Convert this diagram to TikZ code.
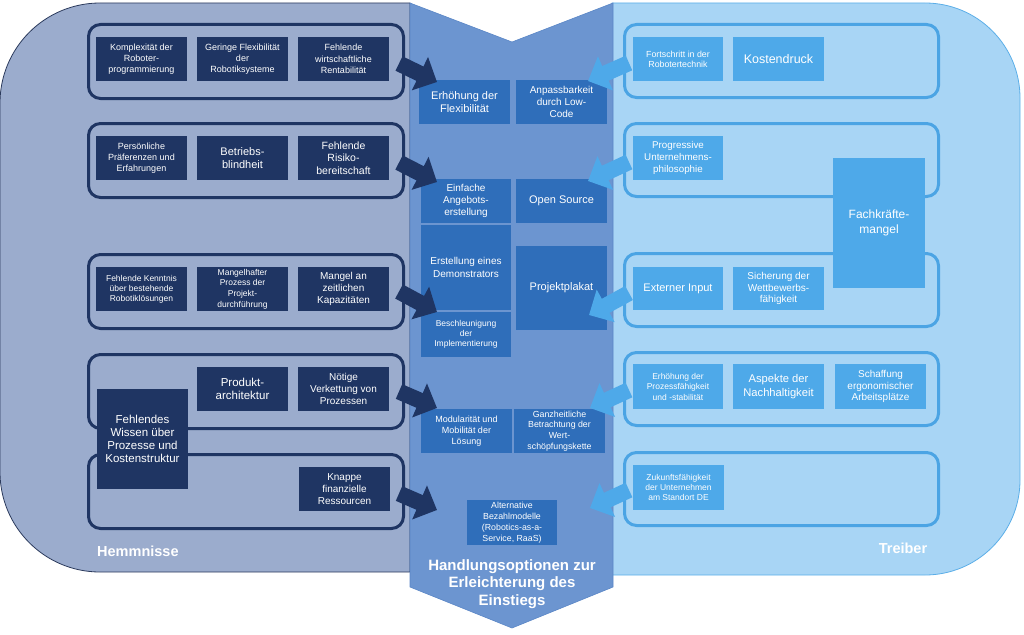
\documentclass[tikz,border=0pt]{standalone}
\usepackage{fontspec}
\setmainfont{Liberation Sans}
\usetikzlibrary{arrows.meta}
\definecolor{lpanel}{HTML}{9BACCD}
\definecolor{lline}{HTML}{2B3A5C}
\definecolor{navy}{HTML}{1F3563}
\definecolor{mpanel}{HTML}{6C95D0}
\definecolor{mline}{HTML}{5A86C6}
\definecolor{mbox}{HTML}{2F6EBA}
\definecolor{rpanel}{HTML}{A8D5F5}
\definecolor{rline}{HTML}{5BAEE8}
\definecolor{rbox}{HTML}{4EA9E9}
\definecolor{rgrp}{HTML}{4BA4E4}
\begin{document}
\begin{tikzpicture}[x=1pt,y=-1pt,
  box/.style={anchor=north west,inner sep=0pt,outer sep=0pt,minimum width=91pt,minimum height=44pt,align=center,text=white},
  lbox/.style={box,fill=navy},
  mboxs/.style={box,fill=mbox},
  rboxs/.style={box,fill=rbox},
  lgrp/.style={anchor=north west,draw=navy,line width=3pt,rounded corners=12pt,minimum width=315pt,minimum height=74pt,inner sep=0pt},
  rgrps/.style={anchor=north west,draw=rgrp,line width=3pt,rounded corners=12pt,minimum width=314pt,minimum height=73pt,inner sep=0pt},
  larr/.style={draw=navy,line width=16pt,-{Triangle[width=36pt,length=19pt]}},
  rarr/.style={draw=rbox,line width=16pt,-{Triangle[width=36pt,length=19pt]}},
  sza/.style={font=\fontsize{8.5}{10}\selectfont},
  szb/.style={font=\fontsize{9}{11.3}\selectfont},
  szc/.style={font=\fontsize{10}{12}\selectfont},
  szd/.style={font=\fontsize{11}{13}\selectfont},
  sze/.style={font=\fontsize{12}{15}\selectfont},
  lab/.style={text=white,font=\bfseries\fontsize{14.5}{17.5}\selectfont,inner sep=0pt}
]
\useasboundingbox (0,0) rectangle (1024,634);
% panels
\draw[fill=lpanel,draw=lline,line width=0.8pt] (410,3) -- (100,3) .. controls (44.8,3) and (0,47.8) .. (0,103) -- (0,472) .. controls (0,527.2) and (44.8,572) .. (100,572) -- (410,572) -- cycle;
\draw[fill=rpanel,draw=rline,line width=0.8pt] (612,3) -- (925,3) .. controls (977.5,3) and (1020,45.5) .. (1020,98) -- (1020,480) .. controls (1020,532.5) and (977.5,575) .. (925,575) -- (612,575) -- cycle;
\draw[fill=mpanel,draw=mline,line width=0.6pt] (410,3) -- (512,42) -- (613,3) -- (613,587) -- (512,628) -- (410,587) -- cycle;

% left groups
\node[lgrp] (g1) at (87,23) {};
\node[lgrp] (g2) at (87,122) {};
\node[lgrp] (g3) at (87,253) {};
\node[lgrp] (g4) at (87,353) {};
\node[lgrp] (g5) at (87,453) {};
% right groups
\node[rgrps] (rg1) at (623,23) {};
\node[rgrps] (rg2) at (623,122) {};
\node[rgrps] (rg3) at (623,252) {};
\node[rgrps] (rg4) at (623,351) {};
\node[rgrps] (rg5) at (623,451) {};

% left boxes
\node[lbox,szb] (l11) at (96,37) {Komplexität der\\Roboter-\\programmierung};
\node[lbox,szb] (l12) at (197,37) {Geringe Flexibilität\\der\\Robotiksysteme};
\node[lbox,szb] (l13) at (298,37) {Fehlende\\wirtschaftliche\\Rentabilität};
\node[lbox,szb] (l21) at (96,136) {Persönliche\\Präferenzen und\\Erfahrungen};
\node[lbox,szd] (l22) at (197,136) {Betriebs-\\blindheit};
\node[lbox,font=\fontsize{10.5}{12.7}\selectfont] (l23) at (298,136) {Fehlende\\Risiko-\\bereitschaft};
\node[lbox,sza] (l31) at (96,267) {Fehlende Kenntnis\\über bestehende\\Robotiklösungen};
\node[lbox,font=\fontsize{8.5}{10.8}\selectfont] (l32) at (197,267) {Mangelhafter\\Prozess der\\Projekt-\\durchführung};
\node[lbox,font=\fontsize{10}{12.3}\selectfont] (l33) at (298,267) {Mangel an\\zeitlichen\\Kapazitäten};
\node[lbox,font=\fontsize{11.5}{13.3}\selectfont] (l41) at (197,367) {Produkt-\\architektur};
\node[lbox,font=\fontsize{10}{11.7}\selectfont] (l42) at (298,367) {Nötige\\Verkettung von\\Prozessen};
\node[lbox,font=\fontsize{11.5}{13}\selectfont,minimum height=100pt] (l40) at (97,389) {Fehlendes\\Wissen über\\Prozesse und\\Kostenstruktur};
\node[lbox,font=\fontsize{10}{12}\selectfont] (l51) at (299,467) {Knappe\\finanzielle\\Ressourcen};

% middle boxes
\node[mboxs,szd] (m1) at (419,80) {Erhöhung der\\Flexibilität};
\node[mboxs,font=\fontsize{10}{12.3}\selectfont] (m2) at (516,80) {Anpassbarkeit\\durch Low-\\Code};
\node[mboxs,font=\fontsize{10}{11.7}\selectfont,minimum width=90pt] (m3) at (421,179) {Einfache\\Angebots-\\erstellung};
\node[mboxs,szd] (m4) at (516,179) {Open Source};
\node[mboxs,font=\fontsize{10}{13}\selectfont,minimum width=90pt,minimum height=85pt] (m5) at (421,225) {Erstellung eines\\Demonstrators};
\node[mboxs,szd,minimum height=84pt] (m6) at (516,246) {Projektplakat};
\node[mboxs,font=\fontsize{8.5}{10}\selectfont,minimum width=90pt,minimum height=45pt] (m7) at (421,312) {Beschleunigung\\der\\Implementierung};
\node[mboxs,font=\fontsize{9}{11.3}\selectfont] (m8) at (421,409) {Modularität und\\Mobilität der\\Lösung};
\node[mboxs,font=\fontsize{8.8}{10.8}\selectfont] (m9) at (514,409) {Ganzheitliche\\Betrachtung der\\Wert-\\schöpfungskette};
\node[mboxs,font=\fontsize{8.8}{11}\selectfont,minimum width=90pt,minimum height=45pt] (m10) at (467,500) {Alternative\\Bezahlmodelle\\(Robotics-as-a-\\Service, RaaS)};

% right boxes
\node[rboxs,font=\fontsize{8.8}{10}\selectfont,minimum width=90pt] (r11) at (633,37) {Fortschritt in der\\Robotertechnik};
\node[rboxs,font=\fontsize{12.5}{14}\selectfont] (r12) at (733,37) {Kostendruck};
\node[rboxs,font=\fontsize{9.8}{11.7}\selectfont,minimum width=90pt] (r21) at (633,136) {Progressive\\Unternehmens-\\philosophie};
\node[rboxs,sze,minimum width=92pt,minimum height=130pt] (r20) at (833,158) {Fachkräfte-\\mangel};
\node[rboxs,szd,minimum width=90pt,minimum height=43pt] (r31) at (633,267) {Externer Input};
\node[rboxs,font=\fontsize{10}{11.7}\selectfont,minimum height=43pt] (r32) at (733,267) {Sicherung der\\Wettbewerbs-\\fähigkeit};
\node[rboxs,font=\fontsize{8.5}{10.5}\selectfont,minimum width=90pt,minimum height=45pt] (r41) at (633,364) {Erhöhung der\\Prozessfähigkeit\\und -stabilität};
\node[rboxs,font=\fontsize{11.2}{13.3}\selectfont,minimum height=45pt] (r42) at (733,364) {Aspekte der\\Nachhaltigkeit};
\node[rboxs,font=\fontsize{10}{11.8}\selectfont,minimum height=45pt] (r43) at (835,364) {Schaffung\\ergonomischer\\Arbeitsplätze};
\node[rboxs,font=\fontsize{8.5}{10.3}\selectfont,minimum height=45pt] (r51) at (633,465) {Zukunftsfähigkeit\\der Unternehmen\\am Standort DE};

% arrow tips
\coordinate (t1) at (437,82);
\coordinate (t2) at (437,182);
\coordinate (t3) at (437,312);
\coordinate (t4) at (437,408);
\coordinate (t5) at (437,510);
\coordinate (u1) at (588,81);
\coordinate (u2) at (588,181);
\coordinate (u3) at (589,315);
\coordinate (u4) at (590,408);
\coordinate (u5) at (590,508);

\draw[larr] ([shift={(-6,2)}]g1.east) -- (t1);
\draw[larr] ([shift={(-6,2)}]g2.east) -- (t2);
\draw[larr] ([shift={(-6,0)}]g3.east) -- (t3);
\draw[larr] ([shift={(-6,0)}]g4.east) -- (t4);
\draw[larr] ([shift={(-6,2)}]g5.east) -- (t5);
\draw[rarr] ([shift={(6,2)}]rg1.west) -- (u1);
\draw[rarr] ([shift={(6,2)}]rg2.west) -- (u2);
\draw[rarr] ([shift={(6,3)}]rg3.west) -- (u3);
\draw[rarr] ([shift={(6,1)}]rg4.west) -- (u4);
\draw[rarr] ([shift={(6,1)}]rg5.west) -- (u5);

% labels
\node[lab,anchor=west] (hem) at (97,551) {Hemmnisse};
\node[lab] (tre) at (903,548) {Treiber};
\node[lab,align=center,font=\bfseries\fontsize{15}{17.5}\selectfont] (hand) at (512,584) {Handlungsoptionen zur\\Erleichterung des\\Einstiegs};
\end{tikzpicture}
\end{document}
